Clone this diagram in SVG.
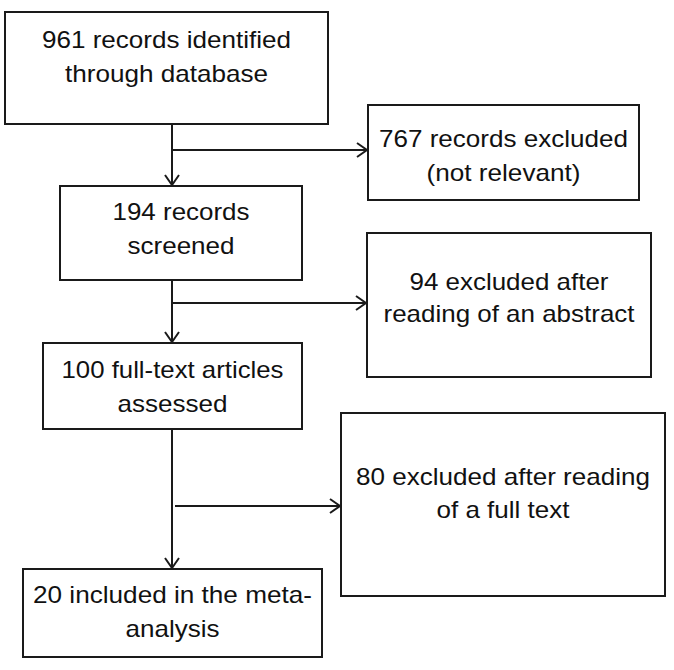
<svg xmlns="http://www.w3.org/2000/svg" width="674" height="670" viewBox="0 0 674 670">
<defs>
<style>
.box{fill:#fff;stroke:#1a1a1a;stroke-width:2}
.t{font-family:"Liberation Sans",Arial,sans-serif;font-size:24px;fill:#111;text-anchor:middle}
.c{fill:none;stroke:#1a1a1a;stroke-width:2}
</style>
<marker id="ah" markerUnits="userSpaceOnUse" markerWidth="14" markerHeight="18" viewBox="-12 -9 14 18" refX="0" refY="0" orient="auto">
<path d="M -10 -7 L 0 0 L -10 7" fill="none" stroke="#1a1a1a" stroke-width="2"/>
</marker>
</defs>
<rect width="674" height="670" fill="#fff"/>
<g id="connectors">
<line class="c" x1="172" y1="124" x2="172" y2="185" marker-end="url(#ah)"/>
<line class="c" x1="172" y1="150" x2="367" y2="150" marker-end="url(#ah)"/>
<line class="c" x1="172" y1="280" x2="172" y2="342" marker-end="url(#ah)"/>
<line class="c" x1="172" y1="303" x2="366" y2="303" marker-end="url(#ah)"/>
<line class="c" x1="172" y1="429" x2="172" y2="568" marker-end="url(#ah)"/>
<line class="c" x1="175" y1="506" x2="340" y2="506" marker-end="url(#ah)"/>
</g>
<g id="n1">
<rect class="box" x="5" y="12" width="323" height="112"/>
<text class="t" x="166.5" y="48" textLength="249" lengthAdjust="spacingAndGlyphs">961 records identified</text>
<text class="t" x="166.5" y="82" textLength="203" lengthAdjust="spacingAndGlyphs">through database</text>
</g>
<g id="n2">
<rect class="box" x="368" y="105" width="271" height="95"/>
<text class="t" x="503.5" y="147" textLength="249" lengthAdjust="spacingAndGlyphs">767 records excluded</text>
<text class="t" x="503.5" y="181" textLength="154" lengthAdjust="spacingAndGlyphs">(not relevant)</text>
</g>
<g id="n3">
<rect class="box" x="60" y="186" width="242" height="94"/>
<text class="t" x="181" y="220" textLength="137" lengthAdjust="spacingAndGlyphs">194 records</text>
<text class="t" x="181" y="254" textLength="107" lengthAdjust="spacingAndGlyphs">screened</text>
</g>
<g id="n4">
<rect class="box" x="367" y="233" width="284" height="144"/>
<text class="t" x="509" y="290" textLength="199" lengthAdjust="spacingAndGlyphs">94 excluded after</text>
<text class="t" x="509" y="322" textLength="251" lengthAdjust="spacingAndGlyphs">reading of an abstract</text>
</g>
<g id="n5">
<rect class="box" x="43" y="343" width="259" height="86"/>
<text class="t" x="172.5" y="378" textLength="222" lengthAdjust="spacingAndGlyphs">100 full-text articles</text>
<text class="t" x="172.5" y="412" textLength="110" lengthAdjust="spacingAndGlyphs">assessed</text>
</g>
<g id="n6">
<rect class="box" x="341" y="413" width="324" height="183"/>
<text class="t" x="503" y="485" textLength="294" lengthAdjust="spacingAndGlyphs">80 excluded after reading</text>
<text class="t" x="503" y="518" textLength="133" lengthAdjust="spacingAndGlyphs">of a full text</text>
</g>
<g id="n7">
<rect class="box" x="23" y="569" width="299" height="88"/>
<text class="t" x="172.5" y="603" textLength="279" lengthAdjust="spacingAndGlyphs">20 included in the meta-</text>
<text class="t" x="172.5" y="637" textLength="94" lengthAdjust="spacingAndGlyphs">analysis</text>
</g>
</svg>
